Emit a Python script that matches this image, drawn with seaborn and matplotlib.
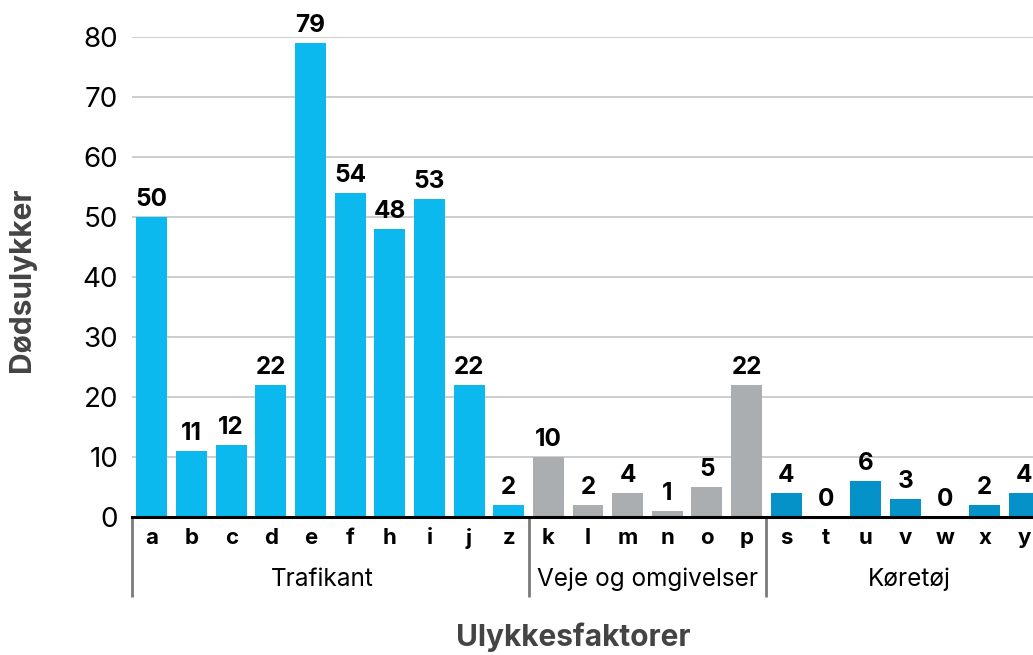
import matplotlib
matplotlib.use("Agg")
import matplotlib.pyplot as plt
import matplotlib.transforms as mtransforms
import pandas as pd
import seaborn as sns

# data
kategorier = ["a", "b", "c", "d", "e", "f", "h", "i", "j", "z",
              "k", "l", "m", "n", "o", "p",
              "s", "t", "u", "v", "w", "x", "y"]
doedsulykker = [50, 11, 12, 22, 79, 54, 48, 53, 22, 2,
                10, 2, 4, 1, 5, 22,
                4, 0, 6, 3, 0, 2, 4]
grupper = ["Trafikant"] * 10 + ["Veje og omgivelser"] * 6 + ["Køretøj"] * 7
gruppe_navne = ["Trafikant", "Veje og omgivelser", "Køretøj"]
farver = {"Trafikant": "#0CB9EE", "Veje og omgivelser": "#ABAEB1", "Køretøj": "#0592C8"}

df = pd.DataFrame({"kategori": kategorier, "antal": doedsulykker, "gruppe": grupper})

sns.set_theme(style="white")
plt.rcParams["font.family"] = ["Inter", "DejaVu Sans"]

fig = plt.figure(figsize=(10.33, 6.55), dpi=100)
# axes runs past the right edge like in the reference
ax = fig.add_axes([132 / 1033, 138 / 655, 912 / 1033, 480 / 655])

sns.barplot(data=df, x="kategori", y="antal", hue="gruppe", palette=farver,
            dodge=False, width=0.78, legend=False, order=kategorier, ax=ax,
            saturation=1, linewidth=0, zorder=3)

ax.set_ylim(0, 80)
ax.set_xlim(-0.5, len(kategorier) - 0.5)
ax.set_yticks(range(0, 81, 10))
ax.yaxis.grid(True, color="#CBCED1", linewidth=1.4, zorder=0)
ax.set_axisbelow(True)
for s in ["top", "right", "left"]:
    ax.spines[s].set_visible(False)
ax.spines["bottom"].set_color("black")
ax.spines["bottom"].set_linewidth(2.2)
ax.spines["bottom"].set_zorder(5)

ax.tick_params(axis="y", length=0, pad=10, labelsize=20, labelcolor="black")
ax.tick_params(axis="x", length=0, pad=8, labelsize=16, labelcolor="black")
for t in ax.get_xticklabels():
    t.set_fontweight("bold")
ax.set_xlabel("")
ax.set_ylabel("")

# value labels
for i, v in enumerate(doedsulykker):
    ax.text(i, v + 1.0, str(v), ha="center", va="bottom", fontsize=17.5,
            fontweight="bold", color="black", clip_on=False)

# group separators and names
trans = mtransforms.blended_transform_factory(ax.transData, ax.transAxes)
gruppe_x = {"Trafikant": 4.3, "Veje og omgivelses": 0, "Køretøj": 19.1}
grenser = [-0.5]
start = 0
for navn in gruppe_navne:
    n = grupper.count(navn)
    midt = gruppe_x.get(navn, start + (n - 1) / 2)
    ax.text(midt, -0.13, navn, transform=trans, ha="center", va="center",
            fontsize=17.5, color="black", clip_on=False)
    start += n
    grenser.append(start - 0.5)
for g in grenser[:-1]:
    ax.plot([g, g], [-0.003, -0.167], transform=trans, color="#7A7A7A",
            linewidth=2, clip_on=False, solid_capstyle="butt")

fig.text(22 / 1033, 1 - 280 / 655, "Dødsulykker", rotation=90, ha="center",
         va="center", fontsize=21.5, fontweight="bold", color="#444444")
fig.text(573 / 1033, 1 - 637 / 655, "Ulykkesfaktorer", ha="center",
         va="center", fontsize=21.5, fontweight="bold", color="#444444")

fig.savefig("out.png", dpi=100)
